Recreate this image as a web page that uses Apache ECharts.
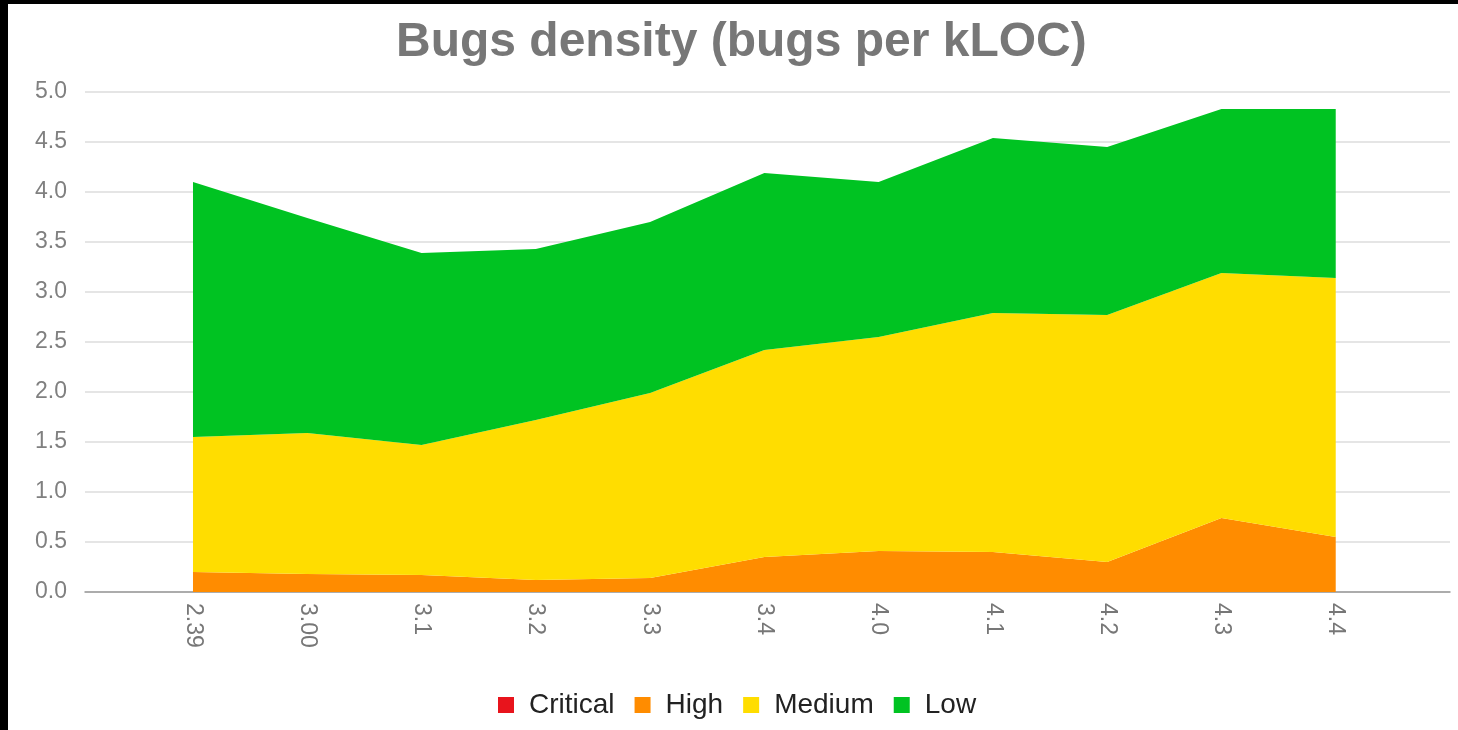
<!DOCTYPE html>
<html>
<head>
<meta charset="utf-8">
<script src="https://cdn.jsdelivr.net/npm/echarts@6/dist/echarts.min.js"></script>
<style>
html,body{margin:0;padding:0;background:#000;width:1458px;height:730px;overflow:hidden;}
#chart{position:absolute;left:8px;top:4px;width:1450px;height:726px;background:#fff;}
</style>
</head>
<body>
<div id="chart"></div>
<script>
const categories = ['2.39', '3.00', '3.1', '3.2', '3.3', '3.4', '4.0', '4.1', '4.2', '4.3', '4.4'];
const critical = [0, 0, 0, 0, 0, 0, 0, 0, 0, 0, 0];
const high     = [0.20, 0.18, 0.17, 0.12, 0.14, 0.35, 0.41, 0.40, 0.30, 0.74, 0.55];
const medium   = [1.35, 1.41, 1.30, 1.60, 1.85, 2.07, 2.14, 2.39, 2.47, 2.45, 2.59];
const low      = [2.55, 2.15, 1.92, 1.71, 1.71, 1.77, 1.55, 1.75, 1.68, 1.64, 1.69];
const yTicks = [0, 0.5, 1, 1.5, 2, 2.5, 3, 3.5, 4, 4.5, 5];
const seriesNames = ['Critical', 'High', 'Medium', 'Low'];
const seriesColors = ['#e8141c', '#ff8c00', '#ffdd00', '#00c322'];

const FONT = 'Liberation Sans, Arial, sans-serif';
const chart = echarts.init(document.getElementById('chart'), null, {renderer: 'canvas'});
const allData = [critical, high, medium, low];

const option = {
  backgroundColor: '#fff',
  animation: false,
  title: {
    text: 'Bugs density (bugs per kLOC)',
    left: 383,
    top: 10,
    textStyle: {fontFamily: FONT, fontSize: 48, fontWeight: 'bold', color: '#777777'}
  },
  legend: {
    left: 485,
    top: 682,
    icon: 'rect',
    itemWidth: 16,
    itemHeight: 16,
    itemGap: 20,
    data: seriesNames,
    textStyle: {fontFamily: FONT, fontSize: 28, color: '#222222', padding: [0, 0, 0, 10]}
  },
  grid: {left: 77, right: 8, top: 88, bottom: 138, containLabel: false},
  xAxis: {
    type: 'value',
    min: -0.945,
    max: 11,
    splitLine: {show: false},
    axisTick: {show: false},
    axisLine: {show: true, onZero: false, lineStyle: {color: '#999999', width: 1.5}},
    axisLabel: {
      customValues: categories.map((c, i) => i),
      formatter: v => categories[Math.round(v)] || '',
      rotate: -90,
      margin: 11,
      fontFamily: FONT,
      fontSize: 23,
      color: '#777777'
    }
  },
  yAxis: {
    type: 'value',
    min: 0,
    max: 5,
    interval: 0.5,
    axisLine: {show: false},
    axisTick: {show: false},
    splitLine: {lineStyle: {color: '#dddddd', width: 1.5}},
    axisLabel: {
      customValues: yTicks,
      formatter: v => v.toFixed(1),
      margin: 18,
      fontFamily: FONT,
      fontSize: 23,
      color: '#808080'
    }
  },
  series: seriesNames.map((name, k) => ({
    name: name,
    type: 'line',
    stack: 'total',
    symbol: 'none',
    color: seriesColors[k],
    itemStyle: {color: seriesColors[k]},
    lineStyle: {width: 0, color: seriesColors[k]},
    areaStyle: {color: seriesColors[k], opacity: 1},
    encode: {x: 1, y: 0},
    data: allData[k].map((v, i) => [v, i])
  }))
};
chart.setOption(option);
</script>
</body>
</html>
